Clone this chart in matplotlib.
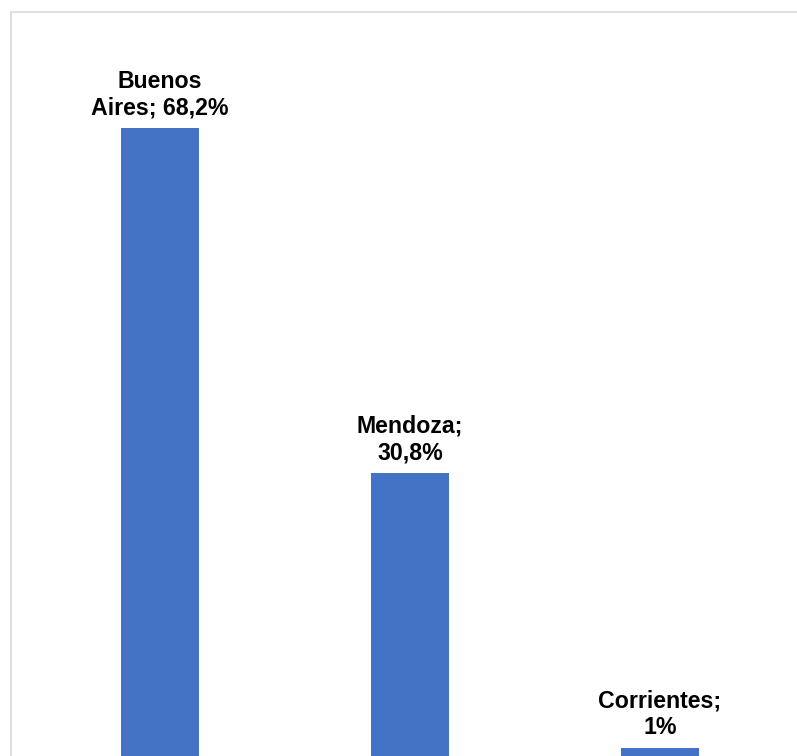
import matplotlib.pyplot as plt
from matplotlib.patches import Rectangle

# datos
provincias = ['Buenos Aires', 'Mendoza', 'Corrientes']
porcentajes = [68.2, 30.8, 1.0]
etiquetas = ['Buenos\nAires; 68,2%', 'Mendoza;\n30,8%', 'Corrientes;\n1%']

plt.rcParams['font.family'] = ['Liberation Sans', 'DejaVu Sans']

fig = plt.figure(figsize=(7.97, 7.56), dpi=100)
ax = fig.add_axes([0, 0, 1, 1])

x = range(len(provincias))
bars = ax.bar(x, porcentajes, width=0.31, color='#4472C4')

for b, txt in zip(bars, etiquetas):
    ax.annotate(txt, (b.get_x() + b.get_width() / 2, b.get_height()),
                xytext=(0, 6), textcoords='offset points',
                ha='center', va='bottom', fontsize=16.7, fontweight='bold',
                linespacing=1.2, color='black')

ax.set_xlim(-0.64, 2.548)
ax.set_ylim(0.1, 82.05)
ax.axis('off')

# borde del grafico
fig.patches.append(Rectangle((10.5 / 797, -0.01), 1.0, (756 - 11.5) / 756 + 0.01,
                             transform=fig.transFigure, fill=False,
                             edgecolor='#d9d9d9', linewidth=1.2))

fig.savefig('out.png', dpi=100)
